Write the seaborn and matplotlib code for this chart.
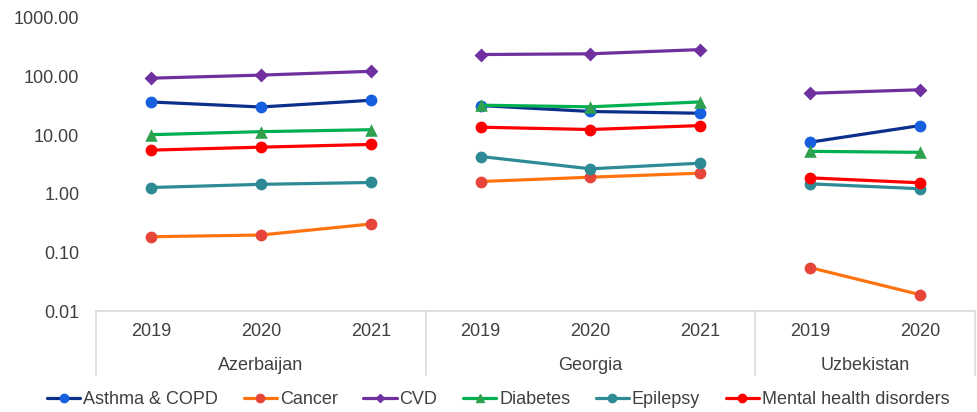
import matplotlib
matplotlib.use("Agg")
import matplotlib.pyplot as plt
import matplotlib.transforms as mtransforms
from matplotlib.lines import Line2D
import numpy as np
import pandas as pd
import seaborn as sns

# ---- data -------------------------------------------------------------
countries = ["Azerbaijan", "Georgia", "Uzbekistan"]
years = {
    "Azerbaijan": ["2019", "2020", "2021"],
    "Georgia": ["2019", "2020", "2021"],
    "Uzbekistan": ["2019", "2020"],
}

diseases = ["Asthma & COPD", "Cancer", "CVD", "Diabetes", "Epilepsy",
            "Mental health disorders"]

# values per country, in year order
asthma_copd = {"Azerbaijan": [36.9, 30.3, 39.4], "Georgia": [32.1, 25.4, 23.7],
               "Uzbekistan": [7.6, 14.6]}
cancer = {"Azerbaijan": [0.185, 0.198, 0.305], "Georgia": [1.62, 1.92, 2.25],
          "Uzbekistan": [0.055, 0.019]}
cvd = {"Azerbaijan": [94.0, 106.0, 123.0], "Georgia": [238.0, 245.0, 289.0],
       "Uzbekistan": [52.0, 59.6]}
diabetes = {"Azerbaijan": [10.2, 11.5, 12.4], "Georgia": [32.5, 30.5, 37.0],
            "Uzbekistan": [5.3, 5.1]}
epilepsy = {"Azerbaijan": [1.28, 1.45, 1.56], "Georgia": [4.33, 2.67, 3.33],
            "Uzbekistan": [1.48, 1.22]}
mental_health = {"Azerbaijan": [5.56, 6.25, 6.96], "Georgia": [13.7, 12.5, 14.6],
                 "Uzbekistan": [1.87, 1.54]}

series = dict(zip(diseases, [asthma_copd, cancer, cvd, diabetes, epilepsy,
                             mental_health]))

# ---- styles -----------------------------------------------------------
line_colors = {"Asthma & COPD": "#0d2f8c", "Cancer": "#ff7410", "CVD": "#7030a0",
               "Diabetes": "#00b050", "Epilepsy": "#2e8b96",
               "Mental health disorders": "#ff0000"}
marker_colors = {"Asthma & COPD": "#1660e0", "Cancer": "#e8453a", "CVD": "#7030a0",
                 "Diabetes": "#2ea04e", "Epilepsy": "#2e8b96",
                 "Mental health disorders": "#ff0000"}
markers = {"Asthma & COPD": "o", "Cancer": "o", "CVD": "D", "Diabetes": "^",
           "Epilepsy": "o", "Mental health disorders": "o"}
marker_sizes = {"o": 72, "D": 50, "^": 82}

# ---- long table with slot positions ------------------------------------
rows = []
slot = 0
slot_labels = []
group_bounds = []
for c in countries:
    start = slot
    for i, y in enumerate(years[c]):
        for d in diseases:
            rows.append({"country": c, "year": y, "pos": slot,
                         "disease": d, "value": series[d][c][i]})
        slot_labels.append((slot, y))
        slot += 1
    group_bounds.append((start - 0.5, slot - 0.5, c))
df = pd.DataFrame(rows)

# ---- figure -----------------------------------------------------------
sns.set_theme(style="white")
plt.rcParams["font.family"] = ["Liberation Sans", "DejaVu Sans"]
text_color = "#404040"
grid_color = "#d9d9d9"

fig = plt.figure(figsize=(9.77, 4.12), dpi=100)
ax = fig.add_axes([96 / 977, 1 - 311 / 412, (975 - 96) / 977, (311 - 18) / 412])

for k, d in enumerate(diseases):
    sub = df[df["disease"] == d]
    sns.lineplot(data=sub, x="pos", y="value", units="country", estimator=None,
                 color=line_colors[d], linewidth=2.3, sort=True, ax=ax,
                 legend=False, zorder=3 + 2 * k)
    m = markers[d]
    sns.scatterplot(data=sub, x="pos", y="value", color=marker_colors[d],
                    marker=m, s=marker_sizes[m], linewidth=0, ax=ax,
                    legend=False, zorder=4 + 2 * k)

ax.set_yscale("log")
ax.set_ylim(0.01, 1000)
ax.set_xlim(-0.5, slot - 0.5)
yt = [0.01, 0.1, 1, 10, 100, 1000]
ax.set_yticks(yt)
ax.set_yticklabels([f"{v:.2f}" for v in yt])
ax.yaxis.set_minor_locator(matplotlib.ticker.NullLocator())
ax.tick_params(axis="y", length=0, pad=12, labelsize=13, labelcolor=text_color)
ax.set_xticks([])
ax.set_xlabel("")
ax.set_ylabel("")
for s in ax.spines.values():
    s.set_visible(False)

# two-level category axis
trans = mtransforms.blended_transform_factory(ax.transData, ax.transAxes)
ax.plot([-0.5, slot - 0.5], [0, 0], color=grid_color, lw=1.2, transform=trans,
        clip_on=False)
sep_bottom = -(375 - 311) / 293
bounds_x = sorted({b for g in group_bounds for b in g[:2]})
for bx in bounds_x:
    ax.plot([bx, bx], [0, sep_bottom], color=grid_color, lw=1.2,
            transform=trans, clip_on=False)
for p, lab in slot_labels:
    ax.text(p, -(332 - 311) / 293, lab, transform=trans, ha="center",
            va="center", fontsize=13, color=text_color)
for lo, hi, c in group_bounds:
    ax.text((lo + hi) / 2, -(365 - 311) / 293, c, transform=trans,
            ha="center", va="center", fontsize=13, color=text_color)

# legend
handles = []
for d in diseases:
    handles.append(Line2D([0], [0], color=line_colors[d], lw=2.3,
                          marker=markers[d], markersize=6 if markers[d] != "D" else 4.5,
                          markerfacecolor=marker_colors[d],
                          markeredgecolor=marker_colors[d], label=d))
leg = fig.legend(handles=handles, loc="center", bbox_to_anchor=(0.51, 1 - 400 / 412),
                 ncol=6, frameon=False, fontsize=13, handlelength=1.85,
                 handletextpad=0.15, columnspacing=1.42, borderaxespad=0)
for t in leg.get_texts():
    t.set_color(text_color)

fig.savefig("out.png", dpi=100)
